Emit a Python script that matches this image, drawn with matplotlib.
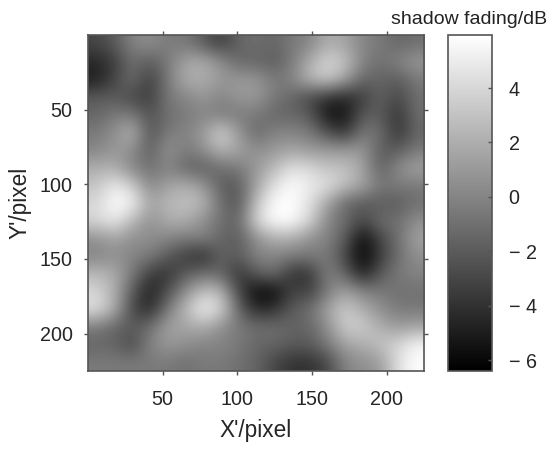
"""Shadow fading map in grayscale with a side colorbar."""

import matplotlib
matplotlib.use("Agg")
import numpy as np
import matplotlib.pyplot as plt

plt.rcParams["font.family"] = ["Liberation Sans", "DejaVu Sans"]

# dB values, coarse grid, top row first
row_00 = [-3, -2, 0, .5, -.5, -.5, -2, -3.5, -1.5, -1, -1.5, -.5, 0, 2, 1.5, 0, -.5, -1.5, -1]
row_01 = [-4.5, -3.5, -1, -2, -.5, 1.5, 2, .5, -1.5, -1.5, -2, -.5, 2, 4, 3, 0, -1, 0, 1]
row_02 = [-5, -3, -1, -3.5, -.5, 2, 2, 1, 1, 1, -.5, 0, 2.5, 3.5, 1.5, -1.5, -1.5, -2, -.5]
row_03 = [-2, -2, -3, -3.5, -.5, 0, 1, 0, 1, 1, -.5, -1.5, -3, -4, -4.5, -3.5, -1.5, -3, -1]
row_04 = [-1.5, -.5, -.5, -2.5, -1, -.5, 0, -.5, -.5, -.5, -1.5, -1.5, -2, -5.5, -5.5, -2, -2, -4, -1]
row_05 = [-.5, .5, 2.5, -2.5, -.5, 0, 1, 4, 1, -1.5, 0, 0, -.5, -2.5, -4, -.5, -1, -4, -1.5]
row_06 = [0, 1, .5, -2, 1, -.5, .5, 2.5, 1.5, .5, 1, 1.5, 1, 1, 1, 1, -2, -2, -.5]
row_07 = [2, 2, 0, -1, 0, -1.5, -2, -1, -.5, 1, 2.5, 4.5, 4, 3, 3, 1.5, -2, .5, 1.5]
row_08 = [3, 5, 3.5, 0, 1.5, 2, 1, -2, -2, 1.5, 4.5, 5.9, 5, 4.5, 3, 1.5, -.5, -.5, -.5]
row_09 = [4, 5.9, 5.5, 1.5, 2.5, 3, 2.5, -1, -2.5, 3, 5.9, 5.9, 4.5, 1.5, -1.5, -2, -2, -2, -1]
row_10 = [4, 5, 2.5, .5, 2, 2, .5, -1, -1.5, 4, 5.9, 5.9, 4, 0, -1, -3, -1, -1, .5]
row_11 = [.5, 1.5, .5, .5, 0, -.5, 0, -1.5, -2, .5, 2, 2, .5, 0, -2, -6, -3, -1, 1.5]
row_12 = [0, .5, 0, -.5, -2, -3.5, -4.5, -1.5, -2, 0, 0, -.5, -.5, -.5, -3, -6.4, -3.5, -1, .5]
row_13 = [2.5, 2, -.5, -3.5, -4, -2, -1, -1.5, -4, -2, -1, -4, -4, 0, -1.5, -5, -2, -.5, 0]
row_14 = [4, 2, -2, -5, -2.5, .5, 3, 2.5, -3, -6, -6, -3, -3.5, -.5, 1.5, 0, -.5, -1, -1]
row_15 = [4.5, 2, -3, -4.5, -.5, 2.5, 5.5, 4, -1.5, -4.5, -4, -2, -1, 1.5, 3.5, 2, .5, -.5, -.5]
row_16 = [-.5, -1.5, -2, -1, 1.5, 1.5, 2, .5, -.5, -1, -1, -1.5, -1.5, .5, 3.5, 3.5, 2, 1, 1.5]
row_17 = [-1.5, -1.5, -3, 0, 1, .5, 0, 0, -.5, -1.5, -1.5, -2, -2, -.5, 1.5, 2, 3, 4, 5.5]
row_18 = [-.5, -.5, -.5, -.5, -.5, -1, -.5, -.5, -1, -1.5, -3, -4, -4, -3, 0, .5, 1, 4.5, 5.9]

fading = np.array([row_00, row_01, row_02, row_03, row_04, row_05, row_06, row_07, row_08,
                   row_09, row_10, row_11, row_12, row_13, row_14, row_15, row_16, row_17, row_18])

x_ticks = [50, 100, 150, 200]
y_ticks = [50, 100, 150, 200]
cbar_ticks = [-6, -4, -2, 0, 2, 4]
cbar_labels = ["\u2212 6", "\u2212 4", "\u2212 2", "0", "2", "4"]

FRAME = "#555555"
TEXT = "#262626"
W, H = 550, 451

fig = plt.figure(figsize=(W / 100, H / 100), dpi=100)
ax = fig.add_axes([88 / W, 1 - 371 / H, 336 / W, 336 / H])
cax = fig.add_axes([448 / W, 1 - 371 / H, 44 / W, 336 / H])

im = ax.imshow(fading, cmap="gray", vmin=-6.4, vmax=5.95, interpolation="bicubic",
               extent=(0, 225, 225, 0), aspect="auto")

# ticks sit outside the frame on all four sides
ax.set_xticks(x_ticks)
ax.set_yticks(y_ticks)
ax.tick_params(direction="out", top=True, right=True, length=3, width=1,
               color=FRAME, labelcolor=TEXT, labelsize=14.2)
ax.tick_params(axis="x", pad=11)
ax.tick_params(axis="y", pad=8)
ax.set_xlabel("X'/pixel", fontsize=16.3, color=TEXT, labelpad=7)
ax.set_ylabel("Y'/pixel", fontsize=16.3, color=TEXT, labelpad=6)
for spine in ax.spines.values():
    spine.set_color(FRAME)
    spine.set_linewidth(1.2)

cb = fig.colorbar(im, cax=cax)
cb.set_ticks(cbar_ticks)
cb.set_ticklabels(cbar_labels)
cax.tick_params(direction="in", length=3, width=1, color=FRAME, labelcolor=TEXT,
                labelsize=14.2, pad=12)
cb.outline.set_edgecolor(FRAME)
cb.outline.set_linewidth(1.2)

fig.text(469 / W, 1 - 19 / H, "shadow fading/dB", ha="center", va="center",
         fontsize=14, color="#222222")

fig.savefig("out.png", dpi=100, facecolor="white")
